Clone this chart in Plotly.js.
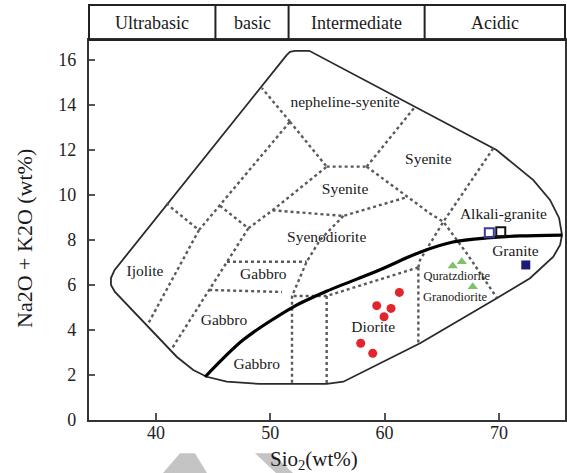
<!DOCTYPE html>
<html>
<head>
<meta charset="utf-8">
<script src="https://cdn.plot.ly/plotly-3.0.1.min.js"></script>
<style>
  html, body { margin: 0; padding: 0; background: #fff; }
  #chart { width: 567px; height: 473px; }
</style>
</head>
<body>
<div id="chart"></div>
<script>
// Total alkali vs silica (TAS) classification for plutonic rocks

// Axis ticks
const siO2Ticks = [40, 50, 60, 70];
const alkaliTicks = [0, 2, 4, 6, 8, 10, 12, 14, 16];

// Silica classes shown in the header strip
const silicaClasses = ['Ultrabasic', 'basic', 'Intermediate', 'Acidic'];
const silicaClassEdges = [34.14, 45.2, 51.6, 63.5, 75.78];

// Outer limit of the classification field
const outerSiO2 = [51.43, 51.72, 52.16, 53.41, 69.79, 73.01, 74.47, 75.26, 75.52, 75.35, 74.76, 72.72, 69.81, 63.10, 56.39, 54.93, 49.10, 46.19, 44.44, 43.26, 41.81, 36.41, 36.06, 36.06, 36.37, 51.43];
const outerAlk  = [16.20, 16.34, 16.39, 16.39, 11.98, 10.64, 9.76, 8.96, 8.20, 7.76, 7.24, 6.28, 5.39, 3.39, 1.68, 1.58, 1.58, 1.68, 1.90, 2.20, 2.79, 5.67, 5.98, 6.29, 6.64, 16.20];

// Alkaline / subalkaline divide
const divideSiO2 = [44.29, 47.61, 51.99, 54.96, 59.34, 63.10, 65.98, 68.96, 71.85, 75.52];
const divideAlk  = [1.89, 3.53, 5.00, 5.71, 6.60, 7.44, 7.89, 8.07, 8.16, 8.20];

// Field boundaries (segments separated by null)
const fieldSiO2 = [
  40.9, 43.76, null,
  43.76, 39.27, null,
  43.76, 51.72, null,
  51.72, 49.27, null,
  51.72, 54.93, null,
  54.93, 58.43, null,
  58.43, 62.66, null,
  58.43, 63.97, 65.14, 67.18, 69.81, null,
  69.5, 65.14, 63.1, 62.95, null,
  62.95, 62.95, null,
  62.95, 54.93, null,
  54.93, 54.93, null,
  54.93, 51.9, null,
  56.39, 54.35, 53.18, 52.01, 51.9, 51.9, null,
  46.21, 53.18, null,
  44.65, 51.02, null,
  48.08, 41.3, null,
  45.6, 48.08, null,
  48.08, 50.2, 54.93, null,
  50.2, 56.39, 61.93
];
const fieldAlk = [
  9.6, 8.42, null,
  8.42, 4.22, null,
  8.42, 13.24, null,
  13.24, 14.73, null,
  13.24, 11.24, null,
  11.24, 11.24, null,
  11.24, 13.9, null,
  11.24, 9.16, 8.79, 7.39, 5.42, null,
  12.05, 8.79, 7.09, 6.76, null,
  6.76, 3.35, null,
  6.76, 5.49, null,
  5.49, 1.58, null,
  5.49, 5.49, null,
  9.05, 7.98, 7.01, 5.61, 5.49, 1.58, null,
  7.01, 7.01, null,
  5.76, 5.67, null,
  8.5, 3.08, null,
  9.5, 8.5, null,
  8.5, 9.3, 11.24, null,
  9.3, 9.05, 9.88
];

// Rock names
const fieldNames = ['nepheline-syenite', 'Syenite', 'Syenite', 'Syenodiorite', 'Ijolite', 'Gabbro', 'Gabbro', 'Gabbro', 'Diorite', 'Alkali-granite', 'Granite'];
const fieldNameSiO2 = [56.54, 63.82, 56.54, 54.93, 39.04, 49.39, 45.95, 48.81, 59.01, 70.39, 71.44];
const fieldNameAlk  = [14.05, 11.53, 10.2, 8.05, 6.57, 6.42, 4.39, 2.42, 4.05, 9.09, 7.46];
const smallNames = ['Quratzdiorite', 'Granodiorite'];
const smallNameSiO2 = [66.31, 66.16];
const smallNameAlk  = [6.35, 5.39];

// Samples
const dioriteSiO2 = [61.29, 59.31, 60.56, 59.95, 57.91, 58.96];
const dioriteAlk  = [5.65, 5.06, 4.94, 4.57, 3.39, 2.94];
const quartzDioriteSiO2 = [65.96, 66.75, 67.71];
const quartzDioriteAlk  = [6.82, 7.01, 5.90];
const alkaliGraniteASiO2 = [69.16];
const alkaliGraniteAAlk  = [8.30];
const alkaliGraniteBSiO2 = [70.16];
const alkaliGraniteBAlk  = [8.35];
const graniteSiO2 = [72.35];
const graniteAlk  = [6.87];

const serif = '"Liberation Serif", "Times New Roman", serif';

const traces = [
  { x: outerSiO2, y: outerAlk, mode: 'lines', line: { color: '#2a2a2a', width: 1.8 }, hoverinfo: 'skip' },
  { x: fieldSiO2, y: fieldAlk, mode: 'lines', connectgaps: false, line: { color: '#5a5a5a', width: 2.4, dash: 'dot' }, hoverinfo: 'skip' },
  { x: divideSiO2, y: divideAlk, mode: 'lines', line: { color: '#000', width: 3.2, shape: 'spline', smoothing: 0.8 }, hoverinfo: 'skip' },
  { x: fieldNameSiO2, y: fieldNameAlk, mode: 'text', text: fieldNames, textfont: { family: serif, size: 15.5, color: '#1a1a1a' }, hoverinfo: 'skip' },
  { x: smallNameSiO2, y: smallNameAlk, mode: 'text', text: smallNames, textfont: { family: serif, size: 12.5, color: '#1a1a1a' }, hoverinfo: 'skip' },
  { x: dioriteSiO2, y: dioriteAlk, mode: 'markers', marker: { symbol: 'circle', size: 9, color: '#e3242b' } },
  { x: quartzDioriteSiO2, y: quartzDioriteAlk, mode: 'markers', marker: { symbol: 'triangle-up', size: 9, color: '#7cc36a' } },
  { x: alkaliGraniteASiO2, y: alkaliGraniteAAlk, mode: 'markers', marker: { symbol: 'square-open', size: 9, color: '#3b3b98', line: { width: 2 } } },
  { x: alkaliGraniteBSiO2, y: alkaliGraniteBAlk, mode: 'markers', marker: { symbol: 'square-open', size: 9, color: '#111', line: { width: 2 } } },
  { x: graniteSiO2, y: graniteAlk, mode: 'markers', marker: { symbol: 'square', size: 9, color: '#1c1c78' } }
];

// Header strip above the plot
const headerTop = 1.0921;
const shapes = [
  { type: 'rect', xref: 'paper', yref: 'paper', x0: 0, x1: 1, y0: 1, y1: headerTop, line: { color: '#222', width: 2 } }
];
silicaClassEdges.slice(1, -1).forEach(v => {
  shapes.push({ type: 'line', xref: 'x', yref: 'paper', x0: v, x1: v, y0: 1, y1: headerTop, line: { color: '#222', width: 2 } });
});
// grey marks below the axis
shapes.push({ type: 'path', xref: 'paper', yref: 'paper', path: 'M0.1555,-0.1395 L0.1912,-0.0876 L0.2227,-0.0876 L0.2479,-0.1395 Z', fillcolor: '#c4c4c4', line: { width: 0 }, layer: 'below' });
shapes.push({ type: 'path', xref: 'paper', yref: 'paper', path: 'M0.3487,-0.0876 L0.3845,-0.0876 L0.4286,-0.1395 L0.3929,-0.1395 Z', fillcolor: '#c4c4c4', line: { width: 0 }, layer: 'below' });

const annotations = silicaClasses.map((name, i) => ({
  xref: 'x', yref: 'paper',
  x: (silicaClassEdges[i] + silicaClassEdges[i + 1]) / 2, y: 1.0455,
  xanchor: 'center', yanchor: 'middle',
  text: name, showarrow: false,
  font: { family: serif, size: 18, color: '#1a1a1a' }
}));
annotations.push({
  xref: 'paper', yref: 'paper', x: -0.1345, y: 0.479, textangle: -90,
  xanchor: 'center', yanchor: 'middle',
  text: 'Na2O + K2O (wt%)', showarrow: false,
  font: { family: serif, size: 22, color: '#1a1a1a' }
});
annotations.push({
  xref: 'paper', yref: 'paper', x: 0.4727, y: -0.104,
  xanchor: 'center', yanchor: 'middle', borderpad: 0,
  text: 'Sio<sub>2</sub>(wt%)', showarrow: false,
  font: { family: serif, size: 21, color: '#1a1a1a' }
});

const layout = {
  width: 567, height: 473,
  margin: { l: 89, r: 2, t: 40, b: 53 },
  paper_bgcolor: '#fff', plot_bgcolor: '#fff',
  showlegend: false,
  xaxis: {
    range: [34.14, 75.78], tickvals: siO2Ticks, ticks: 'inside', ticklen: 7, tickwidth: 2, tickcolor: '#555',
    showline: true, mirror: true, linecolor: '#333', linewidth: 2.2,
    showgrid: false, zeroline: false, ticklabelstandoff: -5,
    tickfont: { family: serif, size: 18, color: '#222' }
  },
  yaxis: {
    range: [-0.022, 16.87], tickvals: alkaliTicks, ticks: 'inside', ticklen: 6, tickwidth: 2, tickcolor: '#555',
    showline: true, mirror: true, linecolor: '#333', linewidth: 2.2,
    showgrid: false, zeroline: false, ticklabelstandoff: 7,
    tickfont: { family: serif, size: 18, color: '#222' }
  },
  shapes: shapes,
  annotations: annotations
};

Plotly.newPlot('chart', traces, layout, { displayModeBar: false, staticPlot: true });
</script>
</body>
</html>
